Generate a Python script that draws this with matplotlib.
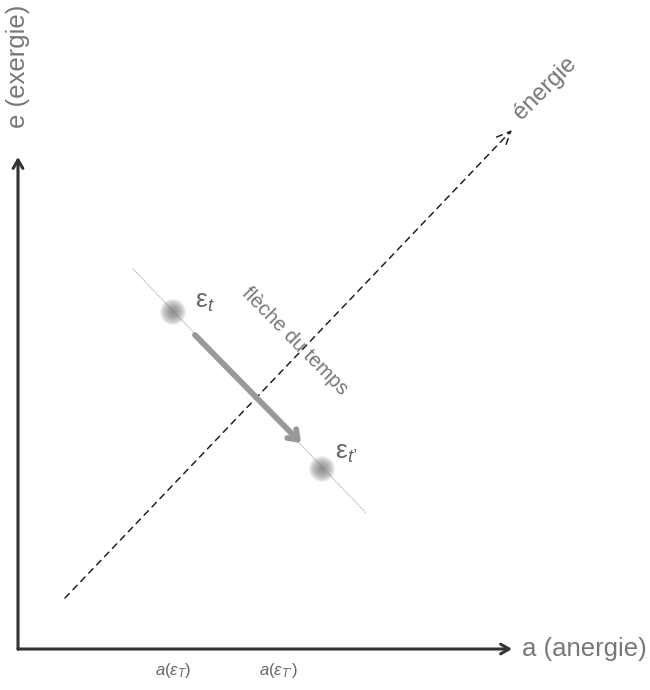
import matplotlib
matplotlib.use("Agg")
import matplotlib.pyplot as plt
import numpy as np

plt.rcParams['font.family'] = ['Liberation Sans', 'DejaVu Sans']
plt.rcParams['mathtext.fontset'] = 'custom'
plt.rcParams['mathtext.rm'] = 'Liberation Sans'
plt.rcParams['mathtext.it'] = 'Liberation Sans:italic'

# --- diagram data (conceptual coordinates, origin at axis corner) ---
axis_x_end = 494
axis_y_end = 492
energy_line_x = [47, 494]
energy_line_y = [51, 519]
perp_line_x = [115, 348]
perp_line_y = [380, 136]
state_x = [155, 304]
state_y = [337, 180]
state_labels = [r'$\mathregular{ε}_{t}$', r"$\mathregular{ε}_{t’}$"]
time_arrow_start = [177, 314]
time_arrow_end = [283, 206]
tick_positions = [155, 260]
tick_labels = [r'$a(ε_{T})$', r"$a(ε_{T’})$"]
x_label = 'a (anergie)'
y_label = 'e (exergie)'
energy_label = 'énergie'
time_label = 'flèche du temps'

fig = plt.figure(figsize=(6.5, 6.9), dpi=100)
ax = fig.add_axes([0, 0, 1, 1])
ax.set_xlim(-18, 632)
ax.set_ylim(-41, 649)
ax.axis('off')

axis_col = '#333333'
grey = '#999999'

# axes arrows
ax.annotate('', xy=(axis_x_end, 0), xytext=(0, 0),
            arrowprops=dict(arrowstyle='->,head_length=0.6,head_width=0.35', lw=2.2,
                            color=axis_col, shrinkA=0, shrinkB=0))
ax.annotate('', xy=(0, axis_y_end), xytext=(0, 0),
            arrowprops=dict(arrowstyle='->,head_length=0.6,head_width=0.35', lw=2.2,
                            color=axis_col, shrinkA=0, shrinkB=0))
ax.plot([-1.1, 0], [0, 0], color=axis_col, lw=2.2, solid_capstyle='butt')

# energy dashed line with open arrow
ax.annotate('', xy=(energy_line_x[1], energy_line_y[1]),
            xytext=(energy_line_x[0], energy_line_y[0]),
            arrowprops=dict(arrowstyle='->,head_length=1.0,head_width=0.45', lw=1.1,
                            color='#222222', linestyle=(0, (4, 3.5)),
                            shrinkA=0, shrinkB=0))

# perpendicular thin line
ax.plot(perp_line_x, perp_line_y, color='#b0b0b0', lw=0.7, linestyle=(0, (1.5, 0.8)))

# blurred state dots
for sx, sy in zip(state_x, state_y):
    for r in np.linspace(13, 2, 13):
        ax.scatter([sx], [sy], s=(1.44 * r) ** 2, color='#777777', alpha=0.10,
                   edgecolors='none', zorder=3)

# time arrow
ax.annotate('', xy=tuple(time_arrow_end), xytext=tuple(time_arrow_start),
            arrowprops=dict(arrowstyle='->,head_length=0.6,head_width=0.45', lw=4.2,
                            color=grey, shrinkA=0, shrinkB=0))

# state labels
ax.text(state_x[0] + 22, state_y[0] + 10, state_labels[0], fontsize=19,
        color='#666666', ha='left', va='center')
ax.text(state_x[1] + 13, state_y[1] + 16, state_labels[1], fontsize=19,
        color='#666666', ha='left', va='center')

# rotated texts
ax.text(277, 308, time_label, fontsize=14.5, color='#777777', rotation=-45.5,
        ha='center', va='center', rotation_mode='anchor')
ax.text(527, 561, energy_label, fontsize=17, color='#777777', rotation=45,
        ha='center', va='center', rotation_mode='anchor')

# axis labels
ax.text(504, 0, x_label, fontsize=18.5, color='#777777', ha='left', va='center')
ax.text(0, 521, y_label, fontsize=18.5, color='#777777', ha='center', va='bottom',
        rotation=90)

# tick labels
for tx, tl in zip(tick_positions, tick_labels):
    ax.text(tx, -22, tl, fontsize=12, color='#666666', ha='center', va='center')

fig.savefig('out.png', dpi=100)
